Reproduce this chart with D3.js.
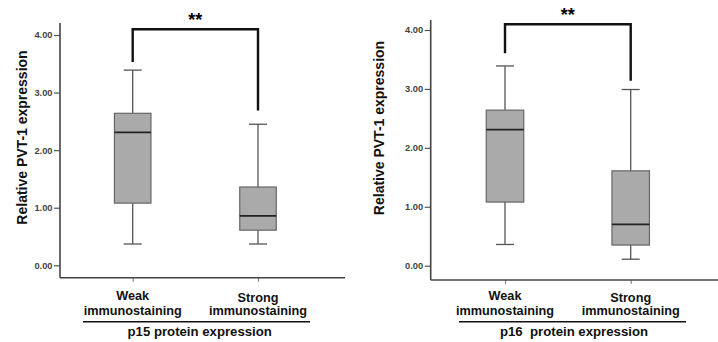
<!DOCTYPE html>
<html>
  <head>
    <style>
      body { margin: 0px; overflow: hidden; background: #fff; }
      text { font-family: "Liberation Sans", Arial, sans-serif; }
    </style>
    <script src="https://d3js.org/d3.v7.min.js"></script>
  </head>
  <body>
    <svg width="718" height="342"></svg>
    <script>
      // data: [min, q1, median, q3, max]
      const groups = ['Weak', 'Strong'];
      const p15Weak = [0.37, 1.08, 2.31, 2.64, 3.39];
      const p15Strong = [0.37, 0.61, 0.86, 1.36, 2.45];
      const p16Weak = [0.36, 1.08, 2.31, 2.64, 3.39];
      const p16Strong = [0.11, 0.35, 0.70, 1.61, 2.99];
      const yTicks = [0, 1, 2, 3, 4];
      const yLabel = 'Relative PVT-1 expression';
      const sigLabel = '**';

      const svg = d3.select('svg');

      const drawPanel = (p) => {
        const g = svg.append('g');
        const y = d3.scaleLinear().domain([0, 4]).range([p.y0, p.y4]);
        const x = d3.scalePoint().domain(groups).range(p.xr);

        // y axis
        const yAxis = d3.axisLeft(y).tickValues(yTicks).tickFormat(d3.format('.2f')).tickSize(6).tickPadding(1.5);
        const ya = g.append('g').attr('transform', `translate(${p.ax},0)`).call(yAxis);
        ya.select('.domain').remove();
        ya.selectAll('line').attr('stroke', '#555').attr('stroke-width', 1.2);
        ya.selectAll('text').attr('font-size', 9.3).attr('font-weight', 'bold').attr('fill', '#444');
        g.append('line').attr('x1', p.ax).attr('x2', p.ax).attr('y1', p.axTop).attr('y2', p.axB)
          .attr('stroke', '#444').attr('stroke-width', 1.6);

        // x axis
        const xAxis = d3.axisBottom(x).tickSize(4).tickFormat('');
        const xa = g.append('g').attr('transform', `translate(0,${p.axB})`).call(xAxis);
        xa.select('.domain').remove();
        xa.selectAll('line').attr('stroke', '#777').attr('stroke-width', 1);
        g.append('line').attr('x1', p.ax).attr('x2', p.axR).attr('y1', p.axB).attr('y2', p.axB)
          .attr('stroke', '#444').attr('stroke-width', 1.6);

        // boxes
        const bw = p.bw;
        p.data.forEach((d, i) => {
          const cx = x(groups[i]);
          const [mn, q1, md, q3, mx] = d;
          const b = g.append('g');
          b.append('line').attr('x1', cx).attr('x2', cx).attr('y1', y(mx)).attr('y2', y(q3))
            .attr('stroke', '#555').attr('stroke-width', 1.3);
          b.append('line').attr('x1', cx).attr('x2', cx).attr('y1', y(q1)).attr('y2', y(mn))
            .attr('stroke', '#555').attr('stroke-width', 1.3);
          [mn, mx].forEach(v => {
            b.append('line').attr('x1', cx - 9).attr('x2', cx + 9).attr('y1', y(v)).attr('y2', y(v))
              .attr('stroke', '#555').attr('stroke-width', 1.3);
          });
          b.append('rect').attr('x', cx - bw / 2).attr('width', bw)
            .attr('y', y(q3)).attr('height', y(q1) - y(q3))
            .attr('fill', '#aaaaaa').attr('stroke', '#666').attr('stroke-width', 1.2);
          b.append('line').attr('x1', cx - bw / 2).attr('x2', cx + bw / 2).attr('y1', y(md)).attr('y2', y(md))
            .attr('stroke', '#222').attr('stroke-width', 1.8);
        });

        // significance bracket
        const xw = x(groups[0]), xs = x(groups[1]);
        g.append('path')
          .attr('d', `M${xw},${p.legL}V${p.brY}H${xs}V${p.legR}`)
          .attr('fill', 'none').attr('stroke', '#111').attr('stroke-width', 2.4);
        g.append('text').attr('x', (xw + xs) / 2).attr('y', p.brY - 3)
          .attr('text-anchor', 'middle').attr('font-size', 18).attr('font-weight', 'bold').text(sigLabel);

        // y label
        g.append('text').attr('transform', `translate(${p.ylx},${p.yly}) rotate(-90)`)
          .attr('text-anchor', 'middle').attr('font-size', 14).attr('font-weight', 'bold')
          .attr('fill', '#111').text(yLabel);

        // category labels
        groups.forEach((c, i) => {
          const t = g.append('text').attr('x', x(c)).attr('text-anchor', 'middle')
            .attr('font-size', 12.7).attr('font-weight', 'bold').attr('fill', '#111');
          t.append('tspan').attr('x', x(c)).attr('y', i === 0 ? 299.5 : 301.5).text(c);
          t.append('tspan').attr('x', x(c)).attr('y', 315).text('immunostaining');
        });
        g.append('line').attr('x1', p.ul[0]).attr('x2', p.ul[1]).attr('y1', 321.7).attr('y2', 321.7)
          .attr('stroke', '#111').attr('stroke-width', 1.6);
        g.append('text').attr('x', p.titleX).attr('y', 335.5).attr('text-anchor', 'middle')
          .attr('font-size', 13.2).attr('font-weight', 'bold').attr('fill', '#111')
          .style('white-space', 'pre').text(p.title);
      };

      drawPanel({
        data: [p15Weak, p15Strong], title: 'p15 protein expression',
        y0: 265.3, y4: 35, xr: [132.7, 258], ax: 60, axTop: 23, axB: 277.7, axR: 345, bw: 36.5,
        brY: 29.3, legL: 62, legR: 110.5, ylx: 27, yly: 137.5, ul: [83, 310], titleX: 199.7
      });
      drawPanel({
        data: [p16Weak, p16Strong], title: 'p16  protein expression',
        y0: 265.7, y4: 30, xr: [505, 630.7], ax: 430.7, axTop: 20, axB: 280, axR: 718, bw: 37.5,
        brY: 24.3, legL: 53.3, legR: 80.7, ylx: 384, yly: 128, ul: [459, 686], titleX: 574
      });
    </script>
  </body>
</html>
